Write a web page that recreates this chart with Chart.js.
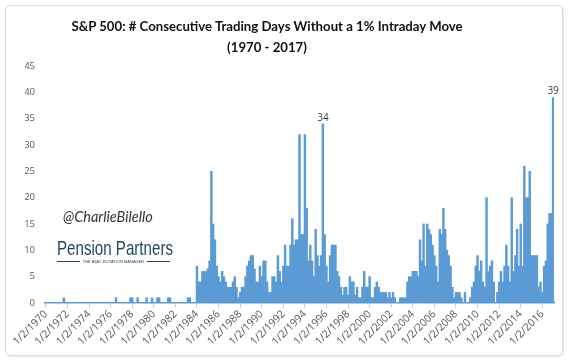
<!DOCTYPE html>
<html>
<head>
<meta charset="utf-8">
<script src="https://cdn.jsdelivr.net/npm/chart.js@4.4.0/dist/chart.umd.min.js"></script>
<style>
  body { margin: 0; background: #fff; }
  .card {
    position: absolute; left: 5px; top: 5px; width: 556px; height: 349px;
    border: 1px solid #dadada; border-radius: 5px;
    box-shadow: 1px 1px 2px rgba(0,0,0,0.10);
  }
  #wrap { position: absolute; left: 0; top: 0; width: 570px; height: 361px; }
  .title {
    position: absolute; left: 0; width: 534px; text-align: center;
    font-family: Lato, "Open Sans", sans-serif; font-weight: bold;
    font-size: 13.2px; color: #111; line-height: 18px;
  }
  .handle {
    position: absolute; left: 63px; top: 208px;
    font-family: Lato, sans-serif; font-style: italic; font-size: 14.5px; color: #333;
  }
  .logo {
    position: absolute; left: 57px; top: 237px;
    font-family: "Liberation Sans", sans-serif;
    font-size: 21px; color: #1f4862; line-height: 22px;
    transform: scaleX(0.72); transform-origin: 0 0; white-space: nowrap;
  }
  .tag {
    position: absolute; left: 57px; top: 258px; width: 113px; height: 6px;
    display: flex; align-items: center; gap: 3px;
    font-family: "Liberation Sans", sans-serif; font-size: 4px; color: #1f4862; white-space: nowrap;
  }
  .tag span.ln { flex: 1; height: 1px; background: #1f4862; }
</style>
</head>
<body>
<div class="card"></div>
<div id="wrap"><canvas id="streakChart" width="570" height="361"></canvas></div>
<div class="title" style="top:17px">S&amp;P 500: # Consecutive Trading Days Without a 1% Intraday Move</div>
<div class="title" style="top:38px">(1970 - 2017)</div>
<div class="handle">@CharlieBilello</div>
<div class="logo">Pension Partners</div>
<div class="tag"><span class="ln"></span><span>THE ATAC ROTATION MANAGER</span><span class="ln"></span></div>
<script>
// one bar every two months, 1/2/1970 .. 1/2/2017
const FIRST_YEAR = 1970;
const LAST_YEAR = 2017;
const MONTHS = [1, 3, 5, 7, 9, 11];

const CATEGORIES = [];
for (let y = FIRST_YEAR; y <= LAST_YEAR; y++) {
    for (const m of MONTHS) {
        if (y === LAST_YEAR && m > 1) break;
        CATEGORIES.push(m + '/2/' + y);
    }
}

// streak length (days), two years per row
const STREAK_DAYS = [
    0, 0, 0, 0, 0, 0, 0, 0, 0, 0, 1, 0,           // 1970-71
    0, 0, 0, 0, 0, 0, 0, 0, 0, 0, 0, 0,           // 1972-73
    0, 0, 0, 0, 0, 0, 0, 0, 0, 0, 0, 0,           // 1974-75
    0, 0, 0, 1, 0, 0, 0, 0, 0, 0, 0, 1,           // 1976-77
    1, 0, 0, 1, 0, 0, 0, 0, 1, 0, 0, 1,           // 1978-79
    0, 0, 1, 1, 0, 0, 0, 0, 1, 1, 0, 0,           // 1980-81
    0, 0, 0, 0, 0, 0, 0, 1, 1, 0, 0, 0,           // 1982-83
    7, 4, 4, 6, 6, 6, 6.5, 8, 25, 15, 12, 7,      // 1984-85
    5, 4, 6, 5, 4, 3, 3, 3, 4, 5, 3, 1,           // 1986-87
    2, 3, 3, 5, 7, 8, 9, 9, 6.5, 4, 4, 7,         // 1988-89
    5, 8, 8, 4, 2, 2, 5, 5, 4, 9, 6, 4,           // 1990-91
    7, 11, 7, 7, 11, 16, 11, 12, 12, 32, 13, 13,  // 1992-93
    32, 18, 8, 11, 8, 5, 14, 9, 7, 9, 34, 13,     // 1994-95
    7, 4, 9, 11, 11, 11, 6, 5, 3, 1.5, 3, 3,      // 1996-97
    1.5, 5, 4, 4, 1.5, 3, 1, 1, 3, 6, 3, 3,       // 1998-99
    5, 1, 1, 3, 4, 3, 2, 2, 2, 2, 1, 2,           // 2000-01
    1, 2, 1, 0, 0, 1, 1, 1, 1, 4, 5, 5,           // 2002-03
    6, 6, 6, 5, 12, 8, 15, 7, 15, 14, 13, 11,     // 2004-05
    9, 7, 4, 14, 13, 18, 14, 10, 9, 7, 3, 1,      // 2006-07
    2, 2, 2, 1, 0, 2, 0, 0, 1, 3, 4, 7,           // 2008-09
    9, 6, 8, 4, 3, 20, 6, 7, 8, 4, 0, 2,          // 2010-11
    4, 6, 4, 7, 11, 7, 4, 20, 6, 9, 14, 7,        // 2012-13
    15, 7, 26, 20, 20, 25, 9, 9, 9, 9, 3, 4,      // 2014-15
    2, 7, 8, 15, 17, 17, 39                       // 2016-17
];

const TICK_LABELS = [
    '1/2/1970', '1/2/1972', '1/2/1974', '1/2/1976', '1/2/1978', '1/2/1980',
    '1/2/1982', '1/2/1984', '1/2/1986', '1/2/1988', '1/2/1990', '1/2/1992',
    '1/2/1994', '1/2/1996', '1/2/1998', '1/2/2000', '1/2/2002', '1/2/2004',
    '1/2/2006', '1/2/2008', '1/2/2010', '1/2/2012', '1/2/2014', '1/2/2016'
];

// bars that carry a value label
const LABELLED = ['9/2/1995', '1/2/2017'];

const peakLabels = {
    id: 'peakLabels',
    afterDatasetsDraw(chart) {
        const meta = chart.getDatasetMeta(0);
        const c = chart.ctx;
        c.save();
        c.font = '10px "Open Sans"';
        c.fillStyle = '#404040';
        c.textAlign = 'center';
        c.textBaseline = 'bottom';
        LABELLED.forEach(function(cat) {
            const i = CATEGORIES.indexOf(cat);
            const bar = meta.data[i];
            c.fillText(String(STREAK_DAYS[i]), bar.x, bar.y - 1);
        });
        c.restore();
    }
};

new Chart(document.getElementById('streakChart'), {
    type: 'bar',
    data: {
        labels: CATEGORIES,
        datasets: [{
            data: STREAK_DAYS,
            backgroundColor: '#5b9bd5',
            borderWidth: 0,
            barPercentage: 1,
            categoryPercentage: 1
        }]
    },
    options: {
        responsive: false,
        animation: false,
        layout: { padding: { left: 25, right: 16, top: 66, bottom: 0 } },
        plugins: {
            legend: { display: false },
            tooltip: { enabled: false }
        },
        scales: {
            x: {
                grid: {
                    drawOnChartArea: false,
                    offset: false,
                    tickLength: 5,
                    color: function(ctx) {
                        return TICK_LABELS.includes(CATEGORIES[ctx.index]) ? '#d0d0d0' : 'rgba(0,0,0,0)';
                    }
                },
                border: { display: true, color: '#5b9bd5', width: 1.5 },
                ticks: {
                    autoSkip: false,
                    minRotation: 45,
                    maxRotation: 45,
                    padding: 0,
                    color: '#595959',
                    font: { family: '"Open Sans"', size: 10.5 },
                    callback: function(v, i) {
                        return TICK_LABELS.includes(CATEGORIES[i]) ? CATEGORIES[i] : '';
                    }
                },
                afterFit: function(s) { s.height = 58; }
            },
            y: {
                min: 0,
                max: 45,
                grid: { display: false, drawTicks: false },
                border: { display: false },
                ticks: { stepSize: 5, padding: 10, color: '#595959', font: { family: '"Open Sans"', size: 9.5 } },
                afterFit: function(s) { s.width = 20; }
            }
        }
    },
    plugins: [peakLabels]
});
</script>
</body>
</html>
